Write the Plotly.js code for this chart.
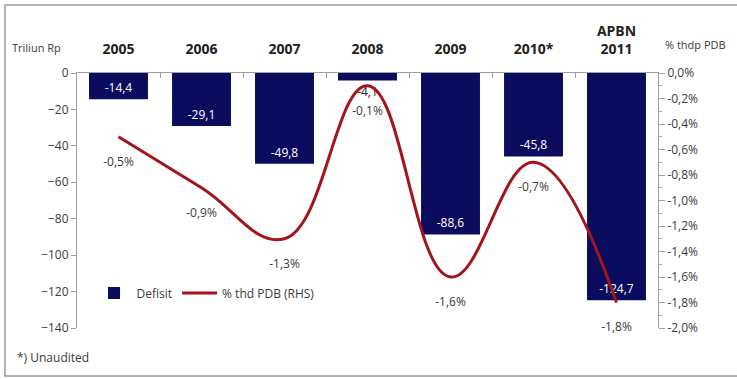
<!DOCTYPE html>
<html>
<head>
<meta charset="utf-8">
<script src="https://cdn.plot.ly/plotly-3.0.1.min.js"></script>
<style>html,body{margin:0;padding:0;background:#fff;}#chart{width:737px;height:379px;}</style>
</head>
<body>
<div id="chart"></div>
<script>
const categories = ['2005', '2006', '2007', '2008', '2009', '2010*', 'APBN<br>2011'];
const defisit = [-14.4, -29.1, -49.8, -4.1, -88.6, -45.8, -124.7];
const pctPDB = [-0.5, -0.9, -1.3, -0.1, -1.6, -0.7, -1.8];
const leftTicks = [0, -20, -40, -60, -80, -100, -120, -140];
const rightTicks = [0, -0.2, -0.4, -0.6, -0.8, -1.0, -1.2, -1.4, -1.6, -1.8, -2.0];
const rightTickText = rightTicks.map(v => v.toFixed(1).replace('.', ',') + '%');

const font = "'Open Sans', 'Liberation Sans', sans-serif";
const gray = '#3a3a3a';

const barPos = defisit.map(v => Math.abs(v) < 10 ? 'outside' : 'inside');
const barTxtCol = defisit.map(v => Math.abs(v) < 10 ? '#222' : '#ffffff');

const traces = [
  {
    type: 'bar', name: 'Defisit', x: categories, y: defisit,
    marker: {color: '#0c0c5e'},
    texttemplate: '%{y:.1f}', textposition: barPos, insidetextanchor: 'end',
    textfont: {family: font, size: 12, color: barTxtCol},
    cliponaxis: false, hoverinfo: 'skip'
  },
  {
    type: 'scatter', name: '% thd PDB (RHS)', x: categories, y: pctPDB, yaxis: 'y2',
    mode: 'lines+markers+text',
    line: {color: '#a3151b', width: 3, shape: 'spline', smoothing: 1.2},
    marker: {size: 30, color: 'rgba(0,0,0,0)'},
    texttemplate: '%{y:.1f}%', textposition: 'bottom center',
    textfont: {family: font, size: 12, color: gray},
    cliponaxis: false, hoverinfo: 'skip'
  }
];

const layout = {
  width: 737, height: 379,
  margin: {l: 77, r: 79, t: 73, b: 51},
  separators: ',.',
  paper_bgcolor: '#ffffff', plot_bgcolor: '#ffffff',
  font: {family: font, color: gray},
  bargap: 0.29,
  showlegend: true,
  legend: {
    orientation: 'h', x: 0.025, y: 0.137, xanchor: 'left', yanchor: 'middle',
    font: {family: font, size: 12, color: gray}, bgcolor: 'rgba(0,0,0,0)',
    traceorder: 'normal', itemwidth: 35
  },
  xaxis: {
    type: 'category', side: 'top', anchor: 'y', range: [-0.5, 6.5],
    showline: true, linecolor: '#a0a0a0', linewidth: 1,
    ticks: 'inside', ticklen: 5, tickcolor: '#a0a0a0', tickson: 'boundaries',
    ticklabelstandoff: 12,
    tickfont: {family: font, size: 14, color: '#222', weight: 'bold'},
    showgrid: false, zeroline: false, fixedrange: true, automargin: false
  },
  yaxis: {
    range: [-140, 0], tickvals: leftTicks, tickformat: 'd',
    showline: true, linecolor: '#a0a0a0', linewidth: 1,
    ticks: 'outside', ticklen: 5, tickcolor: '#a0a0a0',
    tickfont: {family: font, size: 12, color: gray},
    showgrid: false, zeroline: false, fixedrange: true, automargin: false
  },
  yaxis2: {
    overlaying: 'y', side: 'right', range: [-2, 0],
    tickmode: 'array', tickvals: rightTicks, ticktext: rightTickText,
    showline: true, linecolor: '#a0a0a0', linewidth: 1,
    ticks: 'outside', ticklen: 6, tickcolor: '#a0a0a0',
    minor: {ticks: 'outside', ticklen: 3, dtick: 0.1, tickcolor: '#b0b0b0'},
    tickfont: {family: font, size: 12, color: gray},
    showgrid: false, zeroline: false, fixedrange: true, automargin: false
  },
  annotations: [
    {text: 'Triliun Rp', xref: 'paper', yref: 'paper', x: -0.07, y: 1.1, xanchor: 'center', yanchor: 'middle',
     showarrow: false, font: {family: font, size: 11, color: gray}},
    {text: '% thdp PDB', xref: 'paper', yref: 'paper', x: 1.065, y: 1.11, xanchor: 'center', yanchor: 'middle',
     showarrow: false, font: {family: font, size: 11, color: gray}},
    {text: '*) Unaudited', xref: 'paper', yref: 'paper', x: -0.107, y: -0.114, xanchor: 'left', yanchor: 'middle',
     showarrow: false, font: {family: font, size: 12, color: gray}}
  ],
  shapes: [
    {type: 'rect', xref: 'paper', yref: 'paper', x0: -0.124, x1: 1.2, y0: -0.188, y1: 1.267,
     line: {color: '#9a9a9a', width: 1.5}, fillcolor: 'rgba(0,0,0,0)', layer: 'below'}
  ]
};

Plotly.newPlot('chart', traces, layout, {displayModeBar: false, staticPlot: true});
</script>
</body>
</html>
